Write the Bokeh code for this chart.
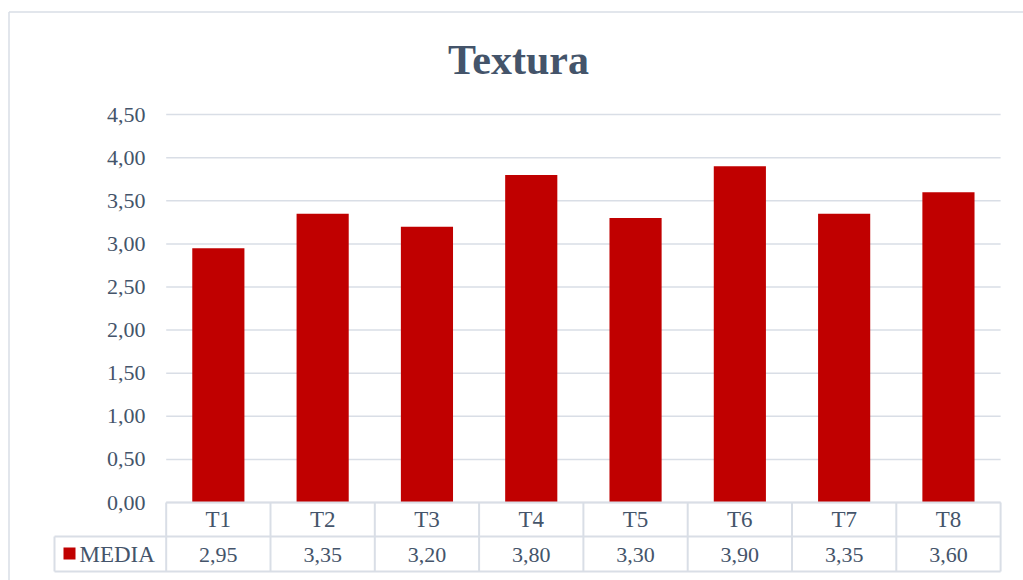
from bokeh.plotting import figure
from bokeh.models import Range1d, ColumnDataSource
from bokeh.core.properties import value
from bokeh.embed import file_html
from bokeh.resources import INLINE

# ---- data ----
categories = ["T1", "T2", "T3", "T4", "T5", "T6", "T7", "T8"]
media = [2.95, 3.35, 3.20, 3.80, 3.30, 3.90, 3.35, 3.60]
y_ticks = [0.0, 0.5, 1.0, 1.5, 2.0, 2.5, 3.0, 3.5, 4.0, 4.5]
series_name = "MEDIA"
title_text = "Textura"

def fmt(v):
    return f"{v:.2f}".replace(".", ",")

# ---- layout (pixels) ----
W, H = 1023, 580
X0 = 165.7      # pixel x of category axis start
COL = 104.3     # pixel width of one category column
Y0 = 502.0      # pixel y of value 0
UNIT = 86.2     # pixels per value unit

def px_x(px):
    return (px - X0) / COL

def px_y(py):
    return (Y0 - py) / UNIT

FONT = value("Liberation Serif")
TXT = "#44546A"
GRID = "#D9DEE6"
BAR = "#C00000"

p = figure(width=W, height=H, output_backend="svg", toolbar_location=None,
           x_range=Range1d(px_x(0), px_x(W)), y_range=Range1d(px_y(H), px_y(0)),
           x_axis_type=None, y_axis_type=None, min_border=0,
           outline_line_color=None, background_fill_color="white",
           border_fill_color="white")
p.grid.visible = False

n = len(categories)
xs = [i + 0.5 for i in range(n)]

# outer chart border (top and left visible)
p.segment(x0=[px_x(8.5), px_x(8.5)], y0=[px_y(11.5), px_y(11.5)],
          x1=[px_x(W + 5), px_x(8.5)], y1=[px_y(11.5), px_y(H + 5)],
          line_color=GRID, line_width=1.5)

# title
p.text(x=[px_x(518)], y=[px_y(59)], text=[title_text], text_font=FONT,
       text_font_size="42px", text_font_style="bold", text_color=TXT,
       text_align="center", text_baseline="middle")

# gridlines
p.segment(x0=[0] * len(y_ticks), x1=[n] * len(y_ticks), y0=y_ticks, y1=y_ticks,
          line_color=GRID, line_width=1.5)

# y tick labels
p.text(x=[px_x(145)] * len(y_ticks), y=y_ticks, text=[fmt(t) for t in y_ticks],
       text_font=FONT, text_font_size="22px", text_color=TXT,
       text_align="right", text_baseline="middle")

# bars
src = ColumnDataSource(dict(x=xs, top=media, cat=categories))
p.vbar(x="x", top="top", bottom=0, width=0.5, source=src, fill_color=BAR,
       line_color=None)

# data table
row1_bot = px_y(536)
row2_bot = px_y(571)
leg_left = px_x(54)
# horizontal lines
p.segment(x0=[0, leg_left, leg_left], x1=[n, n, n],
          y0=[0, row1_bot, row2_bot], y1=[0, row1_bot, row2_bot],
          line_color=GRID, line_width=2)
# vertical lines
p.segment(x0=list(range(n + 1)), x1=list(range(n + 1)),
          y0=[0] * (n + 1), y1=[row2_bot] * (n + 1),
          line_color=GRID, line_width=2)
p.segment(x0=[leg_left], x1=[leg_left], y0=[row1_bot], y1=[row2_bot],
          line_color=GRID, line_width=2)

# header labels
p.text(x=xs, y=[px_y(519)] * n, text=categories, text_font=FONT,
       text_font_size="23px", text_color=TXT, text_align="center",
       text_baseline="middle")
# values
p.text(x=xs, y=[px_y(554)] * n, text=[fmt(v) for v in media], text_font=FONT,
       text_font_size="22px", text_color=TXT, text_align="center",
       text_baseline="middle")
# legend key
p.scatter(x=[px_x(69)], y=[px_y(553)], marker="square", size=12,
          fill_color=BAR, line_color=None)
p.text(x=[px_x(79)], y=[px_y(554)], text=[series_name], text_font=FONT,
       text_font_size="23px", text_color=TXT, text_align="left",
       text_baseline="middle")

open("out.html", "w").write(file_html(p, INLINE))
